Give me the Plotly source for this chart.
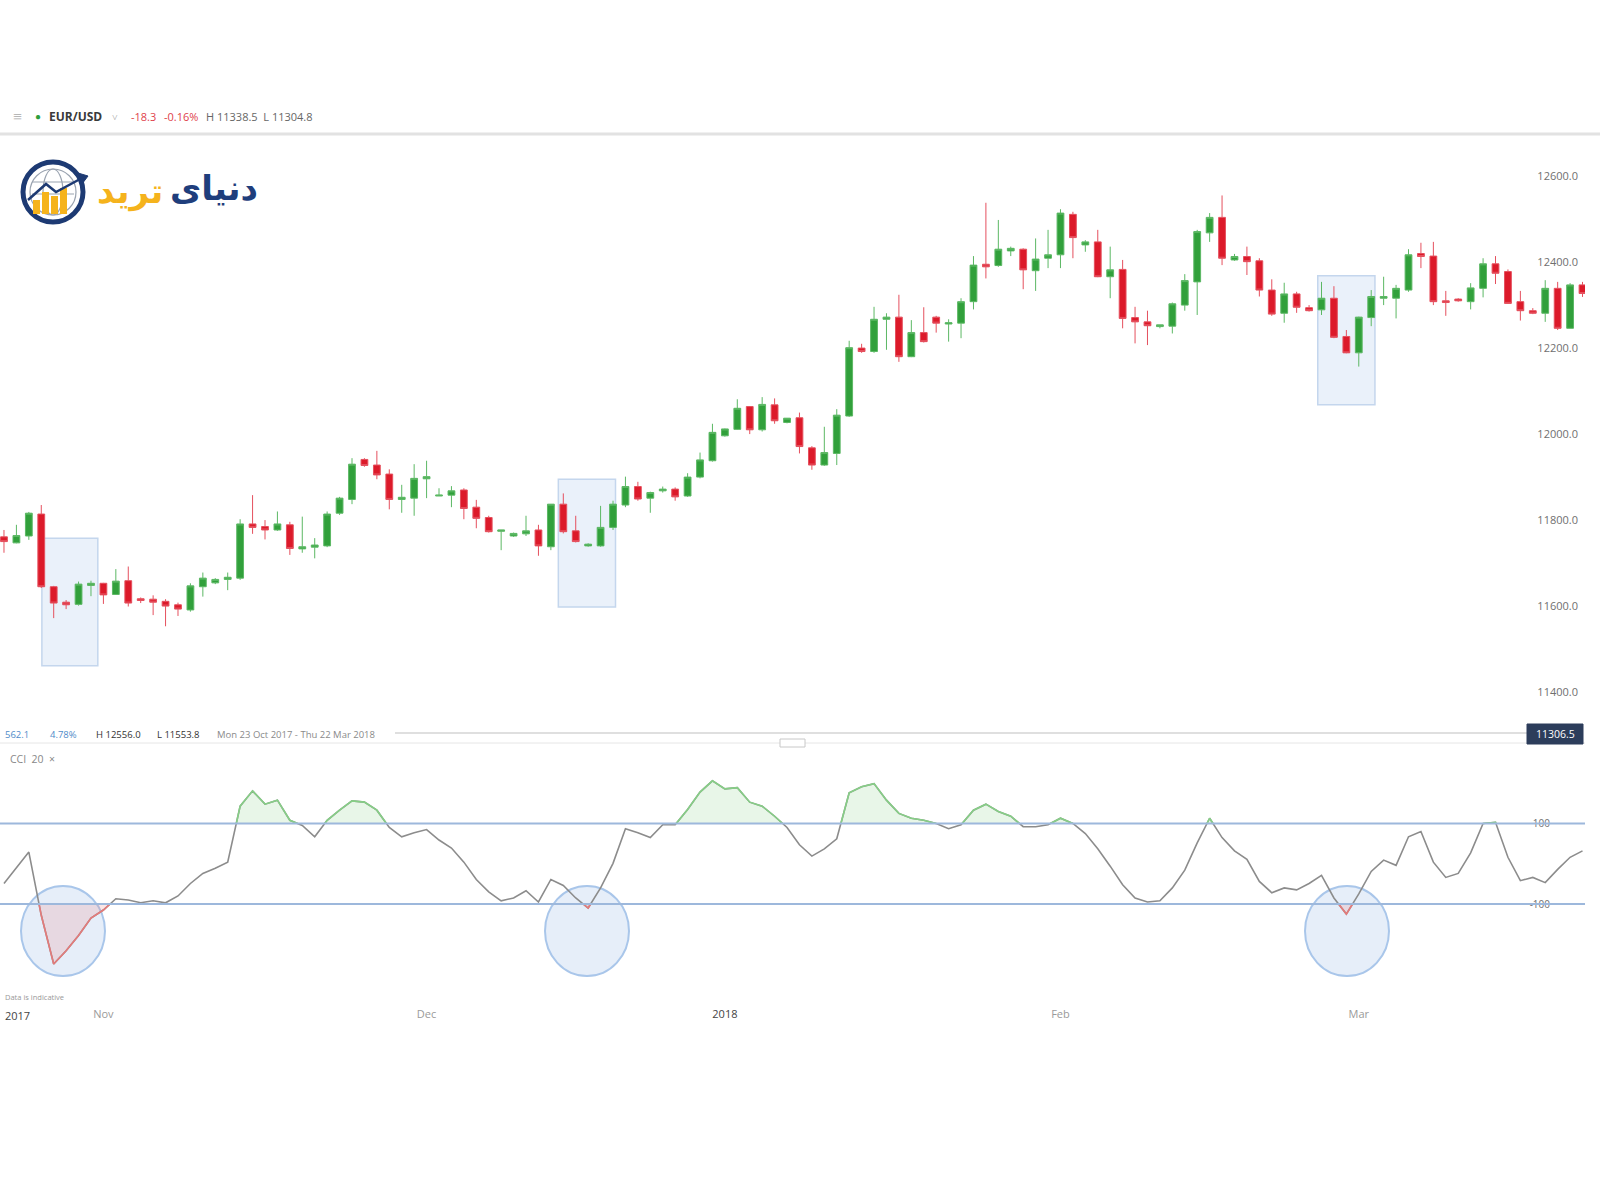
import numpy as np
import plotly.graph_objects as go

W, H = 1600, 1200
def X(px): return px / W
def Y(py): return 1 - py / H

# ---------------- data ----------------
opens = [11762, 11748, 11764, 11815, 11646, 11610, 11605, 11649, 11654, 11628,
         11660, 11618, 11617, 11612, 11604, 11592, 11646, 11655, 11663, 11666,
         11792, 11786, 11778, 11790, 11734, 11738, 11741, 11817, 11849, 11942,
         11929, 11908, 11849, 11852, 11897, 11857, 11859, 11871, 11831, 11807,
         11775, 11764, 11769, 11778, 11739, 11838, 11776, 11741, 11741, 11784,
         11836, 11879, 11852, 11869, 11873, 11857, 11901, 11939, 11997, 12012,
         12065, 12011, 12069, 12028, 12039, 11969, 11929, 11956, 12043, 12201,
         12193, 12268, 12273, 12181, 12237, 12273, 12257, 12259, 12309, 12396,
         12393, 12427, 12431, 12381, 12410, 12418, 12512, 12441, 12448, 12367,
         12384, 12272, 12262, 12251, 12252, 12301, 12355, 12469, 12505, 12406,
         12414, 12404, 12336, 12282, 12327, 12295, 12290, 12317, 12228, 12190,
         12272, 12317, 12317, 12336, 12421, 12415, 12311, 12315, 12309, 12340,
         12397, 12379, 12309, 12288, 12282, 12340, 12247, 12348]
highs = [11778, 11790, 11820, 11836, 11648, 11615, 11658, 11660, 11655, 11687,
         11693, 11621, 11626, 11617, 11609, 11654, 11679, 11666, 11679, 11803,
         11859, 11801, 11821, 11797, 11809, 11759, 11821, 11855, 11945, 11945,
         11962, 11919, 11883, 11931, 11939, 11875, 11880, 11875, 11848, 11811,
         11778, 11772, 11811, 11790, 11838, 11863, 11811, 11747, 11834, 11846,
         11902, 11890, 11867, 11879, 11877, 11910, 11958, 12025, 12014, 12082,
         12066, 12087, 12084, 12038, 12051, 11973, 12018, 12059, 12218, 12211,
         12297, 12282, 12325, 12266, 12296, 12276, 12268, 12317, 12415, 12539,
         12499, 12437, 12433, 12456, 12476, 12524, 12518, 12452, 12476, 12437,
         12406, 12297, 12288, 12255, 12307, 12373, 12476, 12515, 12556, 12420,
         12437, 12410, 12361, 12353, 12332, 12301, 12355, 12345, 12243, 12274,
         12336, 12367, 12348, 12431, 12446, 12448, 12334, 12317, 12352, 12410,
         12415, 12384, 12334, 12294, 12359, 12355, 12352, 12355]
lows = [11725, 11747, 11755, 11643, 11573, 11594, 11602, 11624, 11606, 11627,
        11600, 11608, 11580, 11554, 11578, 11588, 11623, 11652, 11638, 11662,
        11769, 11756, 11776, 11720, 11725, 11712, 11738, 11813, 11838, 11925,
        11896, 11826, 11818, 11811, 11852, 11857, 11831, 11803, 11782, 11772,
        11731, 11762, 11764, 11718, 11731, 11770, 11749, 11739, 11739, 11778,
        11831, 11846, 11818, 11865, 11846, 11855, 11898, 11937, 11995, 12011,
        12001, 12007, 12025, 12026, 11956, 11918, 11927, 11929, 12041, 12190,
        12190, 12197, 12169, 12180, 12214, 12237, 12216, 12224, 12291, 12363,
        12390, 12415, 12338, 12334, 12387, 12387, 12410, 12425, 12366, 12317,
        12247, 12212, 12208, 12247, 12235, 12288, 12278, 12448, 12394, 12404,
        12371, 12321, 12276, 12260, 12283, 12286, 12278, 12224, 12189, 12158,
        12252, 12301, 12270, 12332, 12387, 12301, 12276, 12309, 12291, 12319,
        12350, 12304, 12265, 12280, 12262, 12243, 12247, 12320]
closes = [11751, 11765, 11817, 11646, 11608, 11604, 11652, 11654, 11627, 11659,
          11608, 11614, 11610, 11601, 11594, 11648, 11666, 11663, 11668, 11792,
          11784, 11778, 11792, 11735, 11739, 11743, 11815, 11852, 11931, 11928,
          11906, 11849, 11854, 11898, 11902, 11859, 11869, 11828, 11805, 11774,
          11778, 11770, 11776, 11741, 11838, 11774, 11751, 11745, 11784, 11838,
          11879, 11850, 11865, 11873, 11855, 11901, 11941, 12005, 12013, 12061,
          12011, 12070, 12032, 12038, 11972, 11929, 11958, 12045, 12202, 12193,
          12268, 12273, 12181, 12237, 12216, 12259, 12260, 12309, 12394, 12390,
          12431, 12433, 12383, 12408, 12418, 12515, 12458, 12448, 12367, 12383,
          12270, 12262, 12253, 12255, 12304, 12358, 12472, 12505, 12410, 12414,
          12402, 12336, 12280, 12327, 12296, 12288, 12317, 12226, 12190, 12273,
          12321, 12321, 12340, 12418, 12414, 12309, 12307, 12311, 12341, 12397,
          12375, 12305, 12288, 12282, 12340, 12247, 12348, 12328]
cci = [-49, -11, 29, -128, -249, -216, -178, -135, -115, -87,
       -90, -97, -92, -97, -80, -49, -24, -11, 4, 143,
       181, 148, 158, 108, 95, 67, 108, 133, 156, 153,
       133, 90, 67, 77, 85, 59, 39, 4, -39, -70,
       -92, -85, -67, -95, -39, -54, -85, -110, -60, 1,
       87, 77, 65, 97, 97, 135, 178, 206, 186, 189,
       153, 143, 118, 90, 47, 19, 37, 62, 176, 191,
       199, 158, 125, 113, 108, 100, 87, 97, 133, 148,
       130, 118, 92, 92, 97, 113, 100, 75, 37, -6,
       -52, -85, -95, -92, -60, -16, 52, 113, 65, 32,
       11, -44, -72, -60, -65, -49, -29, -85, -125, -75,
       -19, 9, -4, 67, 80, 4, -34, -24, 27, 100,
       103, 16, -42, -34, -47, -14, 16, 32]

month_ticks = [8, 34, 58, 85, 109]
month_labels = ["Nov", "Dec", "<span style='color:#444'>2018</span>", "Feb", "Mar"]
price_ticks = [11400, 11600, 11800, 12000, 12200, 12400, 12600]
price_labels = ["11400.0", "11600.0", "11800.0", "12000.0", "12200.0", "12400.0", "12600.0"]
cci_levels = [-100, 100]

idx = list(range(len(opens)))

# ---------------- helpers ----------------
def band(xs, ys, thr, above):
    px, py = [xs[0]], [ys[0]]
    for k in range(1, len(xs)):
        y0, y1 = ys[k - 1], ys[k]
        if (y0 - thr) * (y1 - thr) < 0:
            t = (thr - y0) / (y1 - y0)
            px.append(xs[k - 1] + t * (xs[k] - xs[k - 1]))
            py.append(thr)
        px.append(xs[k]); py.append(ys[k])
    px = np.array(px, float); py = np.array(py, float)
    if above:
        mask = py >= thr
        b = np.maximum(py, thr)
    else:
        mask = py <= thr
        b = np.minimum(py, thr)
    line = np.where(mask, py, np.nan)
    return px, b, line

fig = go.Figure()

fig.add_trace(go.Candlestick(
    x=idx, open=opens, high=highs, low=lows, close=closes,
    increasing=dict(fillcolor="#31a03b", line=dict(color="#5cb864", width=1)),
    decreasing=dict(fillcolor="#dc1a2a", line=dict(color="#e5505e", width=1)),
    whiskerwidth=0, xaxis="x", yaxis="y", showlegend=False, hoverinfo="skip"))

# CCI fills
for thr, above, lc, fc in [(100, True, "#86cf86", "rgba(140,210,140,0.20)"),
                           (-100, False, "#e57a7a", "rgba(235,130,130,0.20)")]:
    px, b, ln = band(idx, cci, thr, above)
    fig.add_trace(go.Scatter(x=px, y=[thr] * len(px), mode="lines", line=dict(width=0),
                             xaxis="x2", yaxis="y2", showlegend=False, hoverinfo="skip"))
    fig.add_trace(go.Scatter(x=px, y=b, mode="lines", line=dict(width=0), fill="tonexty",
                             fillcolor=fc, xaxis="x2", yaxis="y2", showlegend=False,
                             hoverinfo="skip"))

fig.add_trace(go.Scatter(x=idx, y=cci, mode="lines", line=dict(color="#8c8c8c", width=1.6),
                         xaxis="x2", yaxis="y2", showlegend=False, hoverinfo="skip"))
for thr, above, lc in [(100, True, "#86cf86"), (-100, False, "#e57a7a")]:
    px, b, ln = band(idx, cci, thr, above)
    fig.add_trace(go.Scatter(x=px, y=ln, mode="lines", line=dict(color=lc, width=1.6),
                             connectgaps=False, xaxis="x2", yaxis="y2", showlegend=False,
                             hoverinfo="skip"))

shapes = []
# highlight rectangles (price pane)
for x0, x1, y0, y1 in [(3.05, 7.55, 11462, 11759), (44.6, 49.2, 11599, 11896),
                       (105.7, 110.3, 12069, 12369)]:
    shapes.append(dict(type="rect", xref="x", yref="y", x0=x0, x1=x1, y0=y0, y1=y1,
                       fillcolor="rgba(214,228,246,0.5)", line=dict(color="#c4d6ed", width=1.5),
                       layer="below"))
# highlight circles (CCI pane), in pixels
for cx in [63, 587, 1347]:
    shapes.append(dict(type="circle", xref="paper", yref="paper",
                       x0=X(cx - 42), x1=X(cx + 42), y0=Y(976), y1=Y(886),
                       fillcolor="rgba(205,222,244,0.5)", line=dict(color="#a9c6ea", width=2),
                       layer="below"))
# CCI level lines
for lv in cci_levels:
    shapes.append(dict(type="line", xref="paper", yref="y2", x0=0, x1=X(1585), y0=lv, y1=lv,
                       line=dict(color="#9db8dc", width=2)))
# header separator
shapes.append(dict(type="line", xref="paper", yref="paper", x0=0, x1=1, y0=Y(134), y1=Y(134),
                   line=dict(color="#e2e2e2", width=3)))
# price pane bottom line & pane separator
shapes.append(dict(type="line", xref="paper", yref="paper", x0=X(395), x1=X(1527), y0=Y(733), y1=Y(733),
                   line=dict(color="#d4d4d4", width=1.5)))
shapes.append(dict(type="line", xref="paper", yref="paper", x0=0, x1=X(1585), y0=Y(743), y1=Y(743),
                   line=dict(color="#e6e6e6", width=1)))
shapes.append(dict(type="rect", xref="paper", yref="paper", x0=X(780), x1=X(805), y0=Y(747), y1=Y(739),
                   fillcolor="white", line=dict(color="#c8c8c8", width=1)))
# last price box
shapes.append(dict(type="rect", xref="paper", yref="paper", x0=X(1527), x1=X(1583), y0=Y(744), y1=Y(724),
                   fillcolor="#2c3d5b", line=dict(color="#2c3d5b", width=1)))

# logo globe
cx, cy = 53, 192
shapes.append(dict(type="circle", xref="paper", yref="paper", x0=X(cx - 30), x1=X(cx + 30),
                   y0=Y(cy + 30), y1=Y(cy - 30), line=dict(color="#1d3a73", width=5)))
shapes.append(dict(type="circle", xref="paper", yref="paper", x0=X(cx - 23), x1=X(cx + 23),
                   y0=Y(cy + 23), y1=Y(cy - 23), line=dict(color="#9aa3b0", width=1.2)))
shapes.append(dict(type="circle", xref="paper", yref="paper", x0=X(cx - 10), x1=X(cx + 10),
                   y0=Y(cy + 23), y1=Y(cy - 23), line=dict(color="#9aa3b0", width=1.2)))
for dy in (-10, 2):
    shapes.append(dict(type="line", xref="paper", yref="paper", x0=X(cx - 21), x1=X(cx + 21),
                       y0=Y(cy + dy), y1=Y(cy + dy), line=dict(color="#9aa3b0", width=1.2)))
for bx, top in [(33, 200), (42, 192), (51, 196), (60, 188)]:
    shapes.append(dict(type="rect", xref="paper", yref="paper", x0=X(bx), x1=X(bx + 7),
                       y0=Y(214), y1=Y(top), fillcolor="#f5b31c", line=dict(width=0)))
shapes.append(dict(type="path", xref="paper", yref="paper",
                   path=f"M {X(28)} {Y(200)} L {X(46)} {Y(184)} L {X(56)} {Y(192)} L {X(82)} {Y(178)}",
                   line=dict(color="#1d3a73", width=2.5)))
shapes.append(dict(type="path", xref="paper", yref="paper",
                   path=f"M {X(78)} {Y(173)} L {X(88)} {Y(176)} L {X(82)} {Y(184)} Z",
                   fillcolor="#1d3a73", line=dict(color="#1d3a73", width=1)))

ann = []
def txt(x, y, s, size=11, color="#555", anchor="left", family="Open Sans"):
    ann.append(dict(x=X(x), y=Y(y), xref="paper", yref="paper", text=s, showarrow=False,
                    xanchor=anchor, yanchor="middle", font=dict(size=size, color=color, family=family)))

# header
txt(11, 116, "≡", 16, "#aaaaaa")
txt(33, 116, "●", 10, "#2f9e3b")
txt(47, 116, "<b>EUR/USD</b>", 12, "#3a3a3a")
txt(110, 117, "˅", 10, "#999999")
txt(129, 116, "-18.3", 11, "#e0424b")
txt(162, 116, "-0.16%", 11, "#e0424b")
txt(204, 116, "H 11338.5  L 11304.8", 11, "#666666")
# stats row
txt(3, 734, "562.1", 9.5, "#4f8bc9")
txt(48, 734, "4.78%", 9.5, "#4f8bc9")
txt(94, 734, "H 12556.0", 9.5, "#333333")
txt(155, 734, "L 11553.8", 9.5, "#333333")
txt(215, 734, "Mon 23 Oct 2017 - Thu 22 Mar 2018", 9.5, "#8a8a8a")
txt(1555, 734, "11306.5", 10.5, "#ffffff", anchor="center")
# CCI title
txt(8, 759, "CCI  20  ×", 10.5, "#888888")
txt(3, 997, "Data is indicative", 7.5, "#999999")
txt(3, 1015, "2017", 11, "#444444")
# logo text
txt(168, 188, "<b>دنیای</b>", 34, "#1f3e7c", anchor="left", family="DejaVu Sans")
txt(165, 191, "<b>ترید</b>", 34, "#f5b31c", anchor="right", family="DejaVu Sans")

xr = [-0.32, 127.2]
fig.update_layout(
    width=W, height=H, margin=dict(l=0, r=0, t=0, b=0),
    paper_bgcolor="white", plot_bgcolor="white",
    boxgap=0.22, showlegend=False,
    shapes=shapes, annotations=ann,
    xaxis=dict(domain=[0, X(1585)], range=xr, visible=False, showgrid=False,
               rangeslider=dict(visible=False), anchor="y"),
    yaxis=dict(domain=[Y(733), Y(135)], range=[11305.8, 12696.6], side="right",
               ticklabelposition="inside", tickvals=price_ticks, ticktext=price_labels,
               tickfont=dict(size=11, color="#6f6f6f", family="Open Sans"),
               showgrid=False, zeroline=False, showline=False, ticks="", anchor="x",
               ticklabelstandoff=4),
    xaxis2=dict(domain=[0, X(1585)], range=xr, anchor="y2", tickvals=month_ticks,
                ticktext=month_labels, tickfont=dict(size=11, color="#9a9a9a", family="Open Sans"),
                showgrid=False, zeroline=False, showline=False, ticks="",
                ticklabelstandoff=3),
    yaxis2=dict(domain=[Y(1003), Y(742)], range=[-345.9, 302.4], side="right",
                ticklabelposition="inside", tickvals=cci_levels, ticktext=["-100", "100"],
                tickfont=dict(size=10, color="#6f6f6f", family="Open Sans"),
                showgrid=False, zeroline=False, showline=False, ticks="", anchor="x2",
                ticklabelstandoff=32),
)

fig.write_html("out.html")
